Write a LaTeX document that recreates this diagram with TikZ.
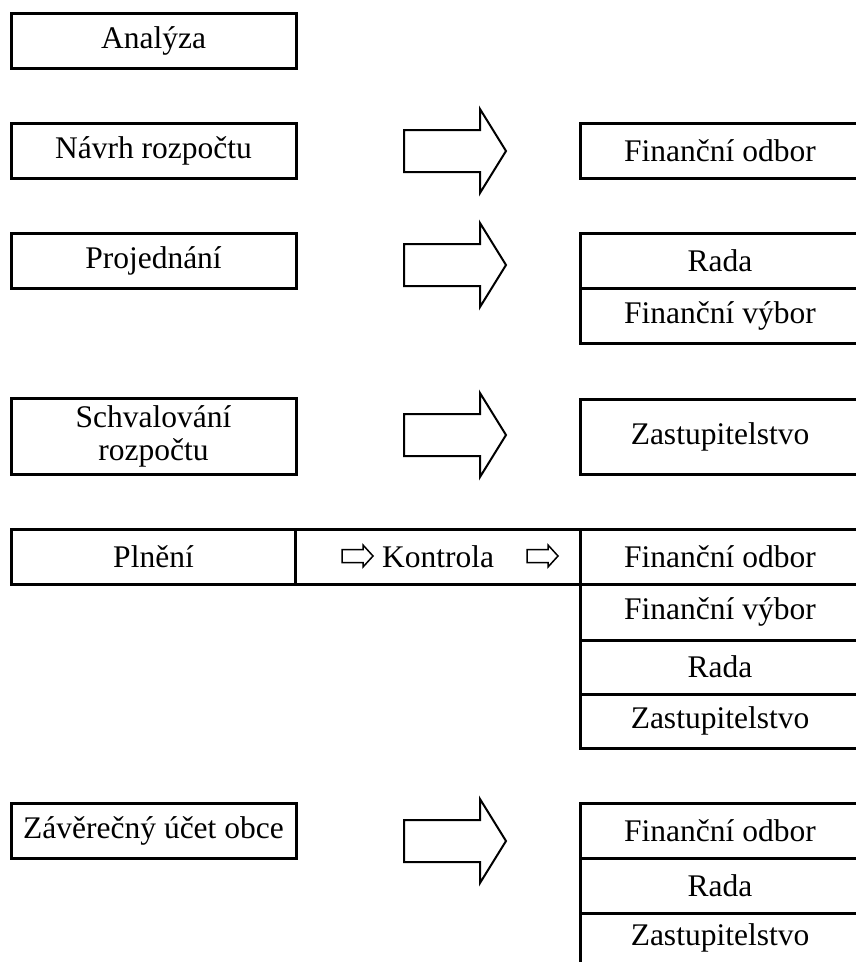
\documentclass[tikz,border=0pt]{standalone}
\usepackage{fontspec}
\setmainfont{Liberation Serif}
\begin{document}
\begin{tikzpicture}[x=1pt,y=-1pt,
  lbox/.style={draw, line width=3pt, minimum width=285pt, minimum height=55pt, inner sep=0pt, align=center},
  txt/.style={inner sep=0pt, align=center},
  rline/.style={line width=3pt, line cap=rect},
  barrow/.pic={\draw[line width=2pt, line join=miter] (0,-21) -- (76,-21) -- (76,-42) -- (102,0) -- (76,42) -- (76,21) -- (0,21) -- cycle;},
  sarrow/.pic={\draw[line width=1.5pt, line join=miter] (0,-6.5) -- (21,-6.5) -- (21,-11) -- (31,0) -- (21,11) -- (21,6.5) -- (0,6.5) -- cycle;}
]
\fontsize{31.5}{33}\selectfont
\useasboundingbox (0,0) rectangle (856,962);

% left column
\node[lbox] (ana) at (153.5,40.5) {Analýza};
\node[lbox] (navrh) at (153.5,150.5) {Návrh rozpočtu};
\node[lbox] (proj) at (153.5,260.5) {Projednání};
\node[lbox, minimum height=76pt] (schv) at (153.5,436) {Schvalování\\rozpočtu};
\node[lbox] (zav) at (153.5,830.5) {Závěrečný účet obce};

% big arrows
\pic at (404,151) {barrow};
\pic at (404,265) {barrow};
\pic at (404,435) {barrow};
\pic at (404,841) {barrow};

% right column group 1
\draw[rline] (856,123) -- (580,123) -- (580,178) -- (856,178);
\node[txt] (fo1) at (720,150.5) {Finanční odbor};

% group 2
\draw[rline] (856,233) -- (580,233) -- (580,343) -- (856,343);
\draw[rline] (580,288) -- (856,288);
\node[txt] (rada1) at (720,260.5) {Rada};
\node[txt] (fv1) at (720,315.5) {Finanční výbor};

% group 3
\draw[rline] (856,399) -- (580,399) -- (580,474) -- (856,474);
\node[txt] (zas1) at (720,436.5) {Zastupitelstvo};

% Plneni row
\draw[rline] (856,529) -- (11,529) -- (11,584) -- (856,584);
\draw[rline] (295,529) -- (295,584);
\draw[rline] (580,529) -- (580,748);
\draw[rline] (580,640) -- (856,640);
\draw[rline] (580,694) -- (856,694);
\draw[rline] (580,748) -- (856,748);
\node[txt] (pln) at (153.5,556.5) {Plnění};
\node[txt] (kon) at (438,556.5) {Kontrola};
\pic at (342,556) {sarrow};
\pic at (527,556) {sarrow};
\node[txt] (fo2) at (720,556.5) {Finanční odbor};
\node[txt] (fv2) at (720,612) {Finanční výbor};
\node[txt] (rada2) at (720,667) {Rada};
\node[txt] (zas2) at (720,721) {Zastupitelstvo};

% last group
\draw[rline] (580,970) -- (580,803) -- (856,803);
\draw[rline] (580,858) -- (856,858);
\draw[rline] (580,913) -- (856,913);
\node[txt] (fo3) at (720,830.5) {Finanční odbor};
\node[txt] (rada3) at (720,885.5) {Rada};
\node[txt] (zas3) at (720,937.5) {Zastupitelstvo};
\end{tikzpicture}
\end{document}
